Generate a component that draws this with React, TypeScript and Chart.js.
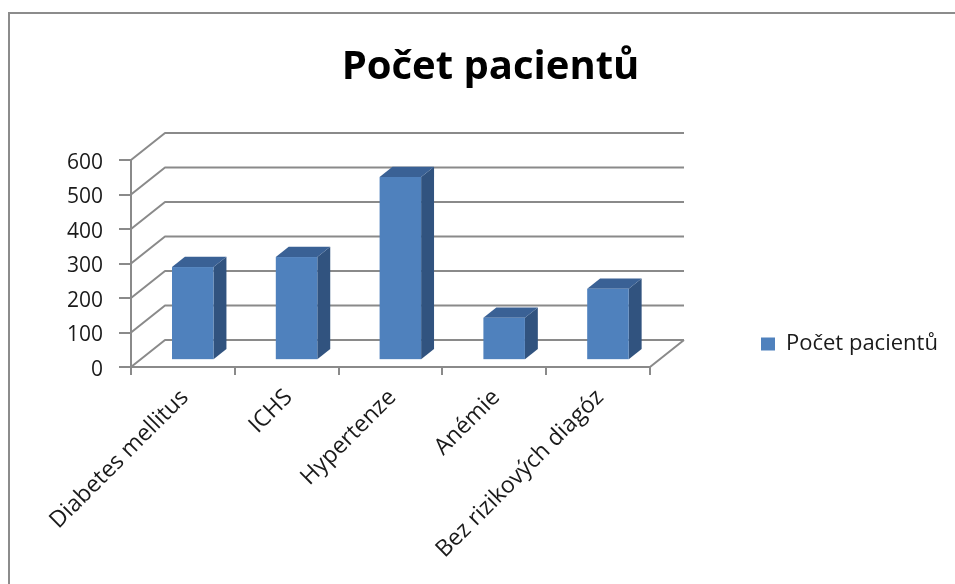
import { useEffect, useRef } from 'react';
import { Chart, registerables } from 'chart.js';

Chart.register(...registerables);

// Data
const categories = ['Diabetes mellitus', 'ICHS', 'Hypertenze', 'Anémie', 'Bez rizikových diagóz'];
const patientCounts = [267, 296, 528, 120, 204];
const seriesName = 'Počet pacientů';
const chartTitle = 'Počet pacientů';
const yTicks = [0, 100, 200, 300, 400, 500, 600];

// Styling
const FONT = '"Open Sans", "DejaVu Sans", sans-serif';
const GRID = '#8a8a8a';
const TEXT = '#1a1a1a';
const FRONT = '#4f81bd';
const SIDE = '#31537f';
const TOP = '#3a6195';
const DEPTH_X = 34; // pseudo-3D depth of the plot box
const DEPTH_Y = 27;
const BAR_NEAR = 0.29; // bar front face, as a fraction of the depth
const BAR_FAR = 0.67; // bar back face
const LEGEND_BOX_X = 761;
const LEGEND_TOP = 104;
const TITLE_SHIFT = 13;

const box3d = {
  id: 'box3d',
  beforeDraw(chart: any) {
    const { ctx, width, height } = chart;
    ctx.save();
    ctx.fillStyle = '#ffffff';
    ctx.fillRect(0, 0, width, height);
    ctx.strokeStyle = '#8c8c8c';
    ctx.lineWidth = 2;
    ctx.strokeRect(9, 13, width + 40, height + 40);
    ctx.restore();
  },
  afterLayout(chart: any) {
    const lg = chart.legend;
    if (lg) {
      const shift = lg.left + lg.options.labels.padding - LEGEND_BOX_X;
      lg.left -= shift;
      lg.right = chart.width;
      lg.top = LEGEND_TOP;
      lg.bottom = chart.height;
    }
    const tb = chart.titleBlock;
    if (tb) {
      tb.left += TITLE_SHIFT;
      tb.right += TITLE_SHIFT;
    }
  },
  beforeDatasetsDraw(chart: any) {
    const { ctx, chartArea } = chart;
    const y = chart.scales.y;
    const { left, right, bottom } = chartArea;

    ctx.save();
    ctx.strokeStyle = GRID;
    ctx.lineWidth = 2;
    ctx.lineJoin = 'round';
    ctx.beginPath();
    for (const v of yTicks) {
      const py = y.getPixelForValue(v);
      ctx.moveTo(left, py);
      ctx.lineTo(left + DEPTH_X, py - DEPTH_Y);
      ctx.lineTo(right + DEPTH_X, py - DEPTH_Y);
    }
    // right edge of the floor
    ctx.moveTo(right, bottom);
    ctx.lineTo(right + DEPTH_X, y.getPixelForValue(0) - DEPTH_Y);
    ctx.stroke();

    // 3D columns
    const meta = chart.getDatasetMeta(0);
    const data = chart.data.datasets[0].data as number[];
    const ox = BAR_NEAR * DEPTH_X;
    const oy = BAR_NEAR * DEPTH_Y;
    const dx = (BAR_FAR - BAR_NEAR) * DEPTH_X;
    const dy = (BAR_FAR - BAR_NEAR) * DEPTH_Y;
    meta.data.forEach((el: any, i: number) => {
      const x0 = el.x - el.width / 2 + ox;
      const x1 = x0 + el.width;
      const yb = y.getPixelForValue(0) - oy;
      const yt = y.getPixelForValue(data[i]) - oy;
      // side
      ctx.fillStyle = SIDE;
      ctx.beginPath();
      ctx.moveTo(x1, yt);
      ctx.lineTo(x1 + dx, yt - dy);
      ctx.lineTo(x1 + dx, yb - dy);
      ctx.lineTo(x1, yb);
      ctx.closePath();
      ctx.fill();
      // top
      ctx.fillStyle = TOP;
      ctx.beginPath();
      ctx.moveTo(x0, yt);
      ctx.lineTo(x0 + dx, yt - dy);
      ctx.lineTo(x1 + dx, yt - dy);
      ctx.lineTo(x1, yt);
      ctx.closePath();
      ctx.fill();
      // front
      ctx.fillStyle = FRONT;
      ctx.fillRect(x0, yt, el.width, yb - yt);
    });
    ctx.restore();
    return false;
  },
};

export default function App() {
  const ref = useRef<HTMLCanvasElement>(null);

  useEffect(() => {
    if (!ref.current) return;
    Chart.defaults.font.family = FONT;
    const chart = new Chart(ref.current, {
      type: 'bar',
      data: {
        labels: categories,
        datasets: [
          {
            label: seriesName,
            data: patientCounts,
            backgroundColor: FRONT,
            borderWidth: 0,
            barPercentage: 0.4,
            categoryPercentage: 1,
          },
        ],
      },
      options: {
        animation: false,
        responsive: false,
        layout: { padding: 0 },
        plugins: {
          title: {
            display: true,
            text: chartTitle,
            color: '#000000',
            font: { size: 40, weight: 'bold', family: FONT },
            padding: { top: 44, bottom: 12 },
          },
          legend: {
            position: 'right',
            labels: {
              boxWidth: 14,
              boxHeight: 13,
              padding: 10,
              color: TEXT,
              font: { size: 22, family: FONT },
            },
          },
          tooltip: { enabled: false },
        },
        scales: {
          x: {
            type: 'category',
            position: 'bottom',
            offset: true,
            grid: { offset: true, drawOnChartArea: false, drawTicks: true, tickLength: 8, color: GRID, lineWidth: 2 },
            border: { display: true, color: GRID, width: 2 },
            ticks: {
              autoSkip: false,
              minRotation: 45,
              maxRotation: 45,
              padding: 9,
              labelOffset: 2,
              color: TEXT,
              font: { size: 23, family: FONT },
            },
            afterFit: (s: any) => {
              s.height = 217;
            },
          },
          x2: {
            type: 'category',
            position: 'top',
            grid: { display: false },
            border: { display: false },
            ticks: { display: false },
            afterFit: (s: any) => {
              s.height = 56;
            },
          },
          y: {
            type: 'linear',
            position: 'left',
            min: 0,
            max: 600,
            afterBuildTicks: (s: any) => {
              s.ticks = yTicks.map((v) => ({ value: v }));
            },
            grid: { drawOnChartArea: false, drawTicks: true, tickLength: 12, color: GRID, lineWidth: 2 },
            border: { display: true, color: GRID, width: 2 },
            ticks: {
              padding: 16,
              labelOffset: 3,
              color: TEXT,
              font: { size: 21, family: FONT },
            },
            afterFit: (s: any) => {
              s.width = 131;
            },
          },
          y2: {
            type: 'linear',
            position: 'right',
            grid: { display: false },
            border: { display: false },
            ticks: { display: false },
            afterFit: (s: any) => {
              const lw = s.chart.legend ? s.chart.legend.width : 0;
              s.width = Math.max(0, 955 - lw - 650);
            },
          },
        },
      },
      plugins: [box3d],
    });
    return () => chart.destroy();
  }, []);

  return (
    <div style={{ position: 'absolute', left: 0, top: 0, width: 955, height: 584, overflow: 'hidden' }}>
      <canvas ref={ref} width={955} height={584} style={{ display: 'block' }} />
    </div>
  );
}
